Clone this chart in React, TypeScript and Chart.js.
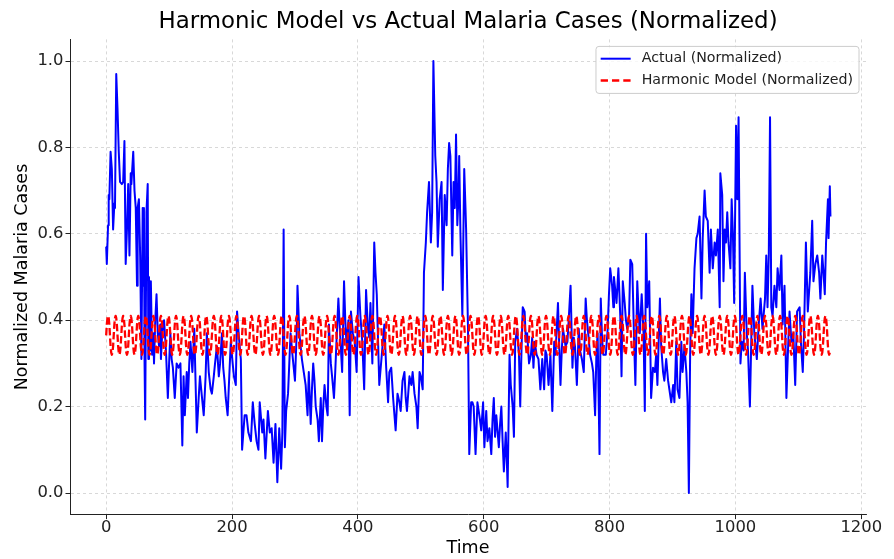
import React, { useEffect, useRef } from 'react';
import { Chart, registerables } from 'chart.js';

Chart.register(...registerables);

const TITLE = 'Harmonic Model vs Actual Malaria Cases (Normalized)';
const X_LABEL = 'Time';
const Y_LABEL = 'Normalized Malaria Cases';
const SERIES_NAMES = ['Actual (Normalized)', 'Harmonic Model (Normalized)'];
const SERIES_COLORS = ['#0000ff', '#ff0000'];

const xTicks = [0, 200, 400, 600, 800, 1000, 1200];
const yTicks = [0, 0.2, 0.4, 0.6, 0.8, 1.0];

// [time, normalized value]
const actualReadings: [number, number][] = [
  [0, 0.57], [1, 0.53], [3, 0.62], [4, 0.69], [5, 0.68], [7, 0.79], [9, 0.75], [11, 0.61], [13, 0.67], [14, 0.66],
  [16, 0.97], [18, 0.89], [20, 0.79], [22, 0.72], [25, 0.715], [27, 0.72], [29, 0.815], [31, 0.53], [33, 0.61], [35, 0.715],
  [37, 0.55], [39, 0.74], [40, 0.715], [43, 0.79], [45, 0.70], [47, 0.66], [49, 0.48], [50, 0.66], [52, 0.68], [54, 0.55],
  [56, 0.31], [58, 0.66], [59, 0.48], [60, 0.66], [61, 0.30], [62, 0.17], [64, 0.65], [66, 0.715], [67, 0.31], [68, 0.50],
  [70, 0.33], [71, 0.49], [73, 0.32], [75, 0.37], [76, 0.30], [78, 0.40], [80, 0.46], [82, 0.37], [84, 0.34], [86, 0.39],
  [87, 0.31], [89, 0.37], [92, 0.40], [95, 0.33], [98, 0.22], [100, 0.30], [102, 0.37], [104, 0.31], [106, 0.29], [109, 0.22],
  [112, 0.30], [115, 0.29], [118, 0.30], [121, 0.11], [123, 0.27], [125, 0.18], [128, 0.28], [130, 0.22], [132, 0.30], [134, 0.35],
  [137, 0.28], [140, 0.38], [142, 0.26], [144, 0.14], [147, 0.22], [149, 0.27], [151, 0.24], [155, 0.18], [158, 0.27], [160, 0.37],
  [163, 0.28], [166, 0.24], [168, 0.23], [171, 0.27], [173, 0.30], [176, 0.34], [179, 0.27], [181, 0.30], [184, 0.37], [186, 0.29],
  [188, 0.26], [190, 0.22], [193, 0.18], [195, 0.25], [198, 0.35], [201, 0.30], [203, 0.27], [206, 0.25], [208, 0.42], [211, 0.36],
  [214, 0.31], [216, 0.10], [218, 0.14], [220, 0.18], [223, 0.18], [226, 0.14], [230, 0.12], [233, 0.21], [236, 0.16], [239, 0.12],
  [242, 0.10], [244, 0.21], [248, 0.14], [250, 0.17], [253, 0.08], [257, 0.19], [260, 0.14], [263, 0.15], [266, 0.07], [269, 0.16],
  [272, 0.025], [275, 0.15], [278, 0.056], [280, 0.14], [282, 0.61], [284, 0.106], [286, 0.19], [289, 0.23], [291, 0.30], [293, 0.37],
  [296, 0.32], [300, 0.26], [303, 0.38], [304, 0.48], [307, 0.37], [311, 0.31], [314, 0.28], [317, 0.25], [320, 0.18], [322, 0.28],
  [325, 0.16], [327, 0.24], [329, 0.30], [331, 0.26], [333, 0.20], [336, 0.17], [338, 0.12], [341, 0.22], [343, 0.12], [345, 0.20],
  [347, 0.25], [350, 0.20], [352, 0.18], [354, 0.39], [357, 0.30], [359, 0.27], [362, 0.22], [364, 0.28], [366, 0.35], [369, 0.45],
  [372, 0.36], [375, 0.28], [378, 0.49], [380, 0.40], [382, 0.34], [385, 0.40], [387, 0.18], [389, 0.42], [392, 0.37], [395, 0.35],
  [398, 0.28], [401, 0.50], [404, 0.41], [407, 0.35], [410, 0.24], [413, 0.47], [416, 0.38], [418, 0.36], [420, 0.44], [423, 0.30],
  [426, 0.58], [428, 0.51], [430, 0.46], [434, 0.25], [438, 0.32], [442, 0.39], [445, 0.29], [448, 0.21], [450, 0.28], [453, 0.29],
  [456, 0.22], [460, 0.145], [463, 0.23], [466, 0.21], [468, 0.19], [471, 0.26], [474, 0.28], [476, 0.22], [478, 0.19], [482, 0.27],
  [485, 0.25], [487, 0.28], [490, 0.23], [493, 0.20], [495, 0.15], [498, 0.28], [500, 0.27], [503, 0.24], [505, 0.51], [508, 0.58],
  [510, 0.65], [513, 0.72], [516, 0.58], [518, 0.65], [520, 1.0], [523, 0.78], [525, 0.72], [527, 0.57], [530, 0.68], [533, 0.72],
  [535, 0.47], [538, 0.69], [541, 0.62], [543, 0.75], [545, 0.81], [547, 0.78], [550, 0.55], [552, 0.72], [554, 0.66], [556, 0.83],
  [558, 0.62], [560, 0.69], [561, 0.78], [563, 0.60], [566, 0.41], [569, 0.75], [571, 0.66], [572, 0.61], [575, 0.38], [577, 0.09],
  [580, 0.21], [582, 0.21], [584, 0.20], [587, 0.09], [590, 0.21], [592, 0.19], [594, 0.17], [596, 0.145], [599, 0.21], [601, 0.106],
  [604, 0.19], [606, 0.12], [609, 0.15], [612, 0.09], [614, 0.17], [616, 0.22], [618, 0.13], [620, 0.18], [624, 0.106], [626, 0.16],
  [628, 0.20], [630, 0.12], [632, 0.05], [635, 0.14], [637, 0.06], [638, 0.014], [641, 0.32], [643, 0.25], [646, 0.20], [648, 0.13],
  [650, 0.35], [653, 0.38], [656, 0.32], [658, 0.20], [660, 0.33], [662, 0.43], [665, 0.42], [667, 0.35], [669, 0.37], [672, 0.30],
  [675, 0.32], [677, 0.36], [679, 0.29], [681, 0.35], [684, 0.32], [687, 0.31], [690, 0.24], [693, 0.31], [696, 0.24], [698, 0.33],
  [700, 0.32], [703, 0.25], [706, 0.32], [709, 0.19], [712, 0.35], [714, 0.32], [716, 0.38], [718, 0.44], [720, 0.34], [722, 0.25],
  [724, 0.33], [726, 0.38], [730, 0.34], [733, 0.35], [735, 0.40], [738, 0.48], [741, 0.29], [743, 0.36], [745, 0.34], [748, 0.25],
  [751, 0.38], [753, 0.33], [756, 0.31], [759, 0.28], [762, 0.45], [764, 0.40], [766, 0.37], [769, 0.32], [772, 0.30], [774, 0.28],
  [777, 0.18], [779, 0.32], [781, 0.37], [784, 0.09], [786, 0.45], [788, 0.36], [790, 0.32], [794, 0.32], [797, 0.38], [799, 0.46],
  [801, 0.52], [804, 0.48], [806, 0.43], [807, 0.50], [809, 0.47], [811, 0.44], [814, 0.52], [817, 0.41], [819, 0.27], [821, 0.49],
  [824, 0.44], [826, 0.40], [828, 0.38], [831, 0.41], [833, 0.54], [836, 0.53], [839, 0.35], [841, 0.25], [844, 0.49], [846, 0.42],
  [848, 0.37], [851, 0.46], [854, 0.37], [856, 0.19], [858, 0.60], [860, 0.43], [863, 0.49], [866, 0.22], [869, 0.29], [872, 0.28],
  [874, 0.32], [876, 0.25], [880, 0.45], [882, 0.34], [885, 0.28], [887, 0.26], [890, 0.31], [893, 0.26], [895, 0.24], [898, 0.21],
  [901, 0.25], [903, 0.21], [906, 0.35], [908, 0.24], [911, 0.22], [914, 0.35], [916, 0.28], [919, 0.34], [922, 0.28], [924, 0.21],
  [926, 0.0], [928, 0.32], [930, 0.46], [932, 0.37], [935, 0.52], [938, 0.59], [940, 0.60], [943, 0.64], [946, 0.45], [948, 0.59],
  [951, 0.70], [953, 0.64], [956, 0.63], [959, 0.51], [961, 0.61], [964, 0.52], [967, 0.58], [969, 0.55], [972, 0.61], [975, 0.43],
  [976, 0.74], [979, 0.69], [981, 0.49], [983, 0.61], [985, 0.58], [987, 0.65], [989, 0.58], [992, 0.52], [994, 0.68], [996, 0.60],
  [998, 0.44], [1001, 0.85], [1003, 0.68], [1005, 0.87], [1006, 0.68], [1008, 0.30], [1010, 0.35], [1013, 0.33], [1015, 0.51], [1018, 0.37],
  [1020, 0.33], [1023, 0.20], [1027, 0.48], [1030, 0.37], [1034, 0.31], [1037, 0.39], [1040, 0.45], [1043, 0.38], [1047, 0.45], [1049, 0.55],
  [1051, 0.43], [1053, 0.55], [1055, 0.87], [1057, 0.43], [1059, 0.41], [1062, 0.48], [1065, 0.43], [1067, 0.52], [1070, 0.47], [1073, 0.55],
  [1075, 0.39], [1078, 0.48], [1081, 0.22], [1084, 0.35], [1086, 0.42], [1089, 0.35], [1092, 0.37], [1095, 0.25], [1098, 0.42], [1102, 0.43],
  [1104, 0.35], [1107, 0.28], [1109, 0.37], [1112, 0.58], [1115, 0.42], [1119, 0.51], [1122, 0.63], [1124, 0.49], [1127, 0.53], [1130, 0.55],
  [1133, 0.51], [1135, 0.45], [1138, 0.55], [1140, 0.51], [1142, 0.46], [1144, 0.58], [1147, 0.68], [1148, 0.59], [1150, 0.71], [1151, 0.64],
];

// one period of the harmonic model (repeats every 12 time steps)
const harmonicCycle = [0.365, 0.39, 0.405, 0.41, 0.405, 0.39, 0.365, 0.34, 0.325, 0.32, 0.325, 0.34];
const harmonicStart = 0;
const harmonicEnd = 1150;

const X_RANGE = [-57.5, 1207.5];
const Y_RANGE = [-0.05, 1.05];

const FONT = "'DejaVu Sans', 'Liberation Sans', sans-serif";

const titlePlugin = {
  id: 'axesTitle',
  afterDraw(chart: any) {
    const { ctx, chartArea } = chart;
    ctx.save();
    ctx.font = `22.9px ${FONT}`;
    ctx.fillStyle = '#000000';
    ctx.textAlign = 'center';
    ctx.textBaseline = 'middle';
    ctx.fillText(TITLE, (chartArea.left + chartArea.right) / 2, 22.2);
    ctx.restore();
  },
};

const legendPlugin = {
  id: 'boxLegend',
  afterDraw(chart: any) {
    const { ctx, chartArea } = chart;
    ctx.save();
    ctx.font = `14.2px ${FONT}`;
    const textW = Math.max(...SERIES_NAMES.map((n) => ctx.measureText(n).width));
    const padL = 4.7;
    const swatch = 30;
    const gap = 11;
    const padR = 6;
    const boxW = padL + swatch + gap + textW + padR;
    const boxH = 47;
    const right = chartArea.right - 7;
    const top = chartArea.top + 7;
    const left = right - boxW;
    ctx.beginPath();
    if (ctx.roundRect) ctx.roundRect(left, top, boxW, boxH, 3);
    else ctx.rect(left, top, boxW, boxH);
    ctx.fillStyle = 'rgba(255,255,255,0.8)';
    ctx.fill();
    ctx.strokeStyle = '#cccccc';
    ctx.lineWidth = 1;
    ctx.stroke();
    const dashes = [[], [7.3, 4.0]];
    const widths = [2, 2.5];
    SERIES_NAMES.forEach((name, i) => {
      const y = top + 12.3 + i * 21.7;
      ctx.beginPath();
      ctx.setLineDash(dashes[i]);
      ctx.strokeStyle = SERIES_COLORS[i];
      ctx.lineWidth = widths[i];
      ctx.moveTo(left + padL, y);
      ctx.lineTo(left + padL + swatch, y);
      ctx.stroke();
      ctx.setLineDash([]);
      ctx.fillStyle = '#222222';
      ctx.textBaseline = 'middle';
      ctx.textAlign = 'left';
      ctx.fillText(name, left + padL + swatch + gap, y);
    });
    ctx.restore();
  },
};

export default function App() {
  const ref = useRef<HTMLCanvasElement>(null);

  useEffect(() => {
    document.body.style.margin = '0';
    const canvas = ref.current;
    if (!canvas) return;

    const actualData = actualReadings.map(([t, v]) => ({ x: t, y: v }));
    const harmonicData: { x: number; y: number }[] = [];
    for (let t = harmonicStart; t <= harmonicEnd; t++) {
      harmonicData.push({ x: t, y: harmonicCycle[t % harmonicCycle.length] });
    }

    const tickFont = { family: FONT, size: 16.4, lineHeight: 1.0 };
    const gridOpts = {
      color: 'rgba(190,190,190,0.75)',
      lineWidth: 0.8,
      drawTicks: true,
      tickLength: 4.5,
      tickColor: '#222222',
      tickWidth: 1,
    };

    const chart = new Chart(canvas, {
      type: 'line',
      data: {
        datasets: [
          {
            label: SERIES_NAMES[0],
            data: actualData,
            borderColor: SERIES_COLORS[0],
            backgroundColor: SERIES_COLORS[0],
            borderWidth: 2,
            pointRadius: 0,
            tension: 0,
            fill: false,
            borderJoinStyle: 'round',
            order: 2,
          },
          {
            label: SERIES_NAMES[1],
            data: harmonicData,
            borderColor: SERIES_COLORS[1],
            backgroundColor: SERIES_COLORS[1],
            borderWidth: 2.3,
            borderDash: [7.4, 3.2],
            borderJoinStyle: 'round',
            pointRadius: 0,
            tension: 0,
            fill: false,
            order: 1,
          },
        ],
      },
      options: {
        animation: false,
        responsive: false,
        maintainAspectRatio: false,
        layout: { padding: { left: 0, right: 28, top: 39.4, bottom: 0 } },
        plugins: {
          legend: { display: false },
          tooltip: { enabled: false },
          title: { display: false },
        },
        scales: {
          x: {
            type: 'linear',
            min: X_RANGE[0],
            max: X_RANGE[1],
            afterFit: (s: any) => {
              s.height = 44.4;
            },
            afterBuildTicks: (s: any) => {
              s.ticks = xTicks.map((v) => ({ value: v }));
            },
            ticks: {
              callback: (v: any) => String(v),
              font: tickFont,
              color: '#222222',
              padding: 0,
              maxRotation: 0,
              autoSkip: false,
            },
            grid: gridOpts,
            border: { display: true, color: '#222222', width: 1, dash: [3, 3] },
            title: {
              display: true,
              text: X_LABEL,
              color: '#000000',
              font: { family: FONT, size: 17.5, lineHeight: 1.2 },
              padding: { top: 0, bottom: 0 },
            },
          },
          y: {
            type: 'linear',
            min: Y_RANGE[0],
            max: Y_RANGE[1],
            afterFit: (s: any) => {
              s.width = 70;
            },
            afterBuildTicks: (s: any) => {
              s.ticks = yTicks.map((v) => ({ value: v }));
            },
            ticks: {
              callback: (v: any) => Number(v).toFixed(1),
              font: tickFont,
              color: '#222222',
              padding: 2,
              autoSkip: false,
            },
            grid: gridOpts,
            border: { display: true, color: '#222222', width: 1, dash: [3, 3] },
            title: {
              display: true,
              text: Y_LABEL,
              color: '#000000',
              font: { family: FONT, size: 17.5, lineHeight: 1.2 },
              padding: { top: 11.5, bottom: 0 },
            },
          },
        },
      },
      plugins: [titlePlugin, legendPlugin],
    } as any);

    return () => chart.destroy();
  }, []);

  return (
    <div style={{ width: 894, height: 559, background: '#ffffff' }}>
      <canvas ref={ref} width={894} height={559} style={{ display: 'block' }} />
    </div>
  );
}
